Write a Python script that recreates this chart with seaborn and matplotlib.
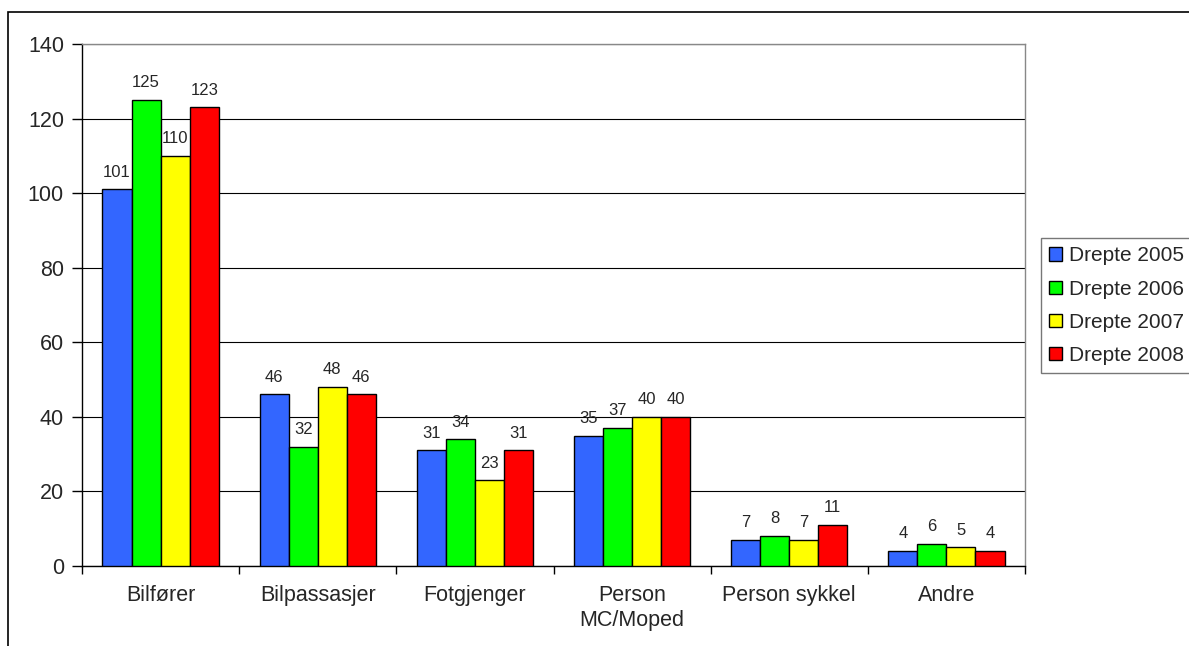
import pandas as pd
import numpy as np
import matplotlib.pyplot as plt
import seaborn as sns
from matplotlib.patches import Rectangle

# categories and values
categories = ['Bilfører', 'Bilpassasjer', 'Fotgjenger', 'Person\nMC/Moped', 'Person sykkel', 'Andre']
series = ['Drepte 2005', 'Drepte 2006', 'Drepte 2007', 'Drepte 2008']
drepte_2005 = [101, 46, 31, 35, 7, 4]
drepte_2006 = [125, 32, 34, 37, 8, 6]
drepte_2007 = [110, 48, 23, 40, 7, 5]
drepte_2008 = [123, 46, 31, 40, 11, 4]
colors = ['#3366FF', '#00FF00', '#FFFF00', '#FF0000']

df = pd.DataFrame({
    'kategori': categories * 4,
    'serie': np.repeat(series, len(categories)),
    'antall': drepte_2005 + drepte_2006 + drepte_2007 + drepte_2008,
})

sns.set_style('white')
plt.rcParams['font.family'] = ['Liberation Sans', 'DejaVu Sans']

fig = plt.figure(figsize=(11.89, 6.46), dpi=100)
ax = fig.add_axes([82 / 1189, 1 - 566 / 646, (1025 - 82) / 1189, (566 - 44) / 646])

sns.barplot(data=df, x='kategori', y='antall', hue='serie', palette=colors,
            width=0.74, edgecolor='black', linewidth=1, saturation=1,
            ax=ax, zorder=3)

for cont in ax.containers:
    ax.bar_label(cont, padding=7, fontsize=12)

ax.set_ylim(0, 140)
ax.set_yticks(range(0, 141, 20))
ax.set_xlim(-0.5, len(categories) - 0.5)
ax.yaxis.grid(True, color='black', linewidth=0.8, zorder=0)
ax.set_axisbelow(True)
ax.set_xlabel('')
ax.set_ylabel('')

# tick marks between groups like in the original
ax.set_xticks(np.arange(len(categories)))
ax.set_xticklabels(categories, fontsize=15.5, linespacing=1.22)
ax.set_xticks(np.arange(-0.5, len(categories)), minor=True)
ax.tick_params(axis='x', which='major', length=0, pad=14)
ax.tick_params(axis='x', which='minor', length=6, width=1, color='black', direction='out', bottom=True)
ax.tick_params(axis='y', length=7, width=1, color='black', direction='out', left=True, labelsize=15.5, pad=6)

for side in ['left', 'bottom']:
    ax.spines[side].set_color('black')
    ax.spines[side].set_linewidth(1)
for side in ['top', 'right']:
    ax.spines[side].set_color('#888888')
    ax.spines[side].set_linewidth(1)

leg = ax.legend(loc='upper left', bbox_to_anchor=(1041 / 1189, 1 - 238 / 646),
                bbox_transform=fig.transFigure, frameon=True, fancybox=False,
                edgecolor='#555555', fontsize=15, handlelength=0.6, handleheight=0.6,
                handletextpad=0.35, labelspacing=0.68, borderpad=0.4, borderaxespad=0)
leg.get_frame().set_linewidth(1)
for h in leg.legend_handles:
    h.set_edgecolor('black')

# outer chart border
fig.patches.append(Rectangle((8 / 1189, -0.1), 1.2, 1 - 12 / 646 + 0.1,
                             transform=fig.transFigure, fill=False,
                             edgecolor='black', linewidth=1.2))

plt.savefig('out.png', dpi=100)
